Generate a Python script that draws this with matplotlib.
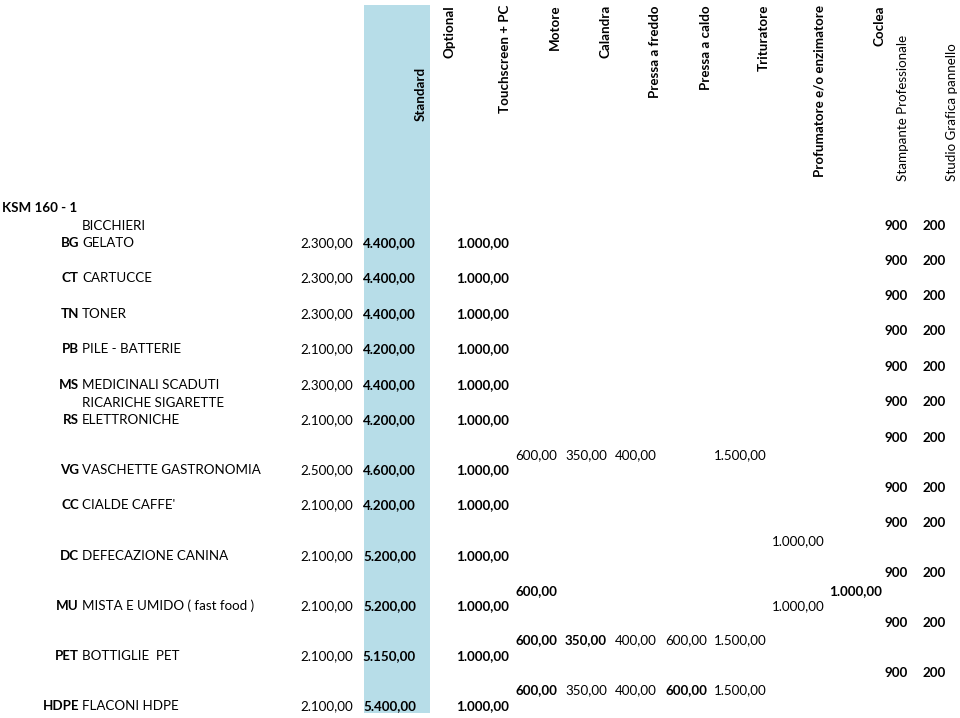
import matplotlib.pyplot as plt
from matplotlib.patches import Rectangle

plt.rcParams["font.family"] = ["Lato", "DejaVu Sans"]

# --- data ---
title = "KSM 160 - 1"
codes = ["BG", "CT", "TN", "PB", "MS", "RS", "VG", "CC", "DC", "MU", "PET", "HDPE"]
names = ["GELATO", "CARTUCCE", "TONER", "PILE - BATTERIE", "MEDICINALI SCADUTI",
         "ELETTRONICHE", "VASCHETTE GASTRONOMIA", "CIALDE CAFFE'",
         "DEFECAZIONE CANINA", "MISTA E UMIDO ( fast food )", "BOTTIGLIE  PET",
         "FLACONI HDPE"]
name_prefix = {"BG": "BICCHIERI", "RS": "RICARICHE SIGARETTE"}
base_price = [2300, 2300, 2300, 2100, 2300, 2100, 2500, 2100, 2100, 2100, 2100, 2100]
standard = [4400, 4400, 4400, 4200, 4400, 4200, 4600, 4200, 5200, 5200, 5150, 5400]
optional = [1000] * 12
stampante = [900] * 12
studio = [200] * 12

headers_top = ["Optional", "Touchscreen + PC", "Motore", "Calandra",
               "Pressa a freddo", "Pressa a caldo", "Trituratore",
               "Profumatore e/o enzimatore", "Coclea"]
headers_bottom = ["Stampante Professionale", "Studio Grafica pannello"]

# optional extras: (row code, column, value, bold, line) line 0 = above row, 1 = on row
extras = [
    ("VG", "Motore", 600, False, 0), ("VG", "Calandra", 350, False, 0),
    ("VG", "Pressa a freddo", 400, False, 0), ("VG", "Trituratore", 1500, False, 0),
    ("DC", "Profumatore", 1000, False, 0),
    ("MU", "Motore", 600, True, 0), ("MU", "Coclea", 1000, True, 0),
    ("MU", "Profumatore", 1000, False, 1),
    ("PET", "Motore", 600, True, 0), ("PET", "Calandra", 350, True, 0),
    ("PET", "Pressa a freddo", 400, False, 0), ("PET", "Pressa a caldo", 600, False, 0),
    ("PET", "Trituratore", 1500, False, 0),
    ("HDPE", "Motore", 600, True, 0), ("HDPE", "Calandra", 350, False, 0),
    ("HDPE", "Pressa a freddo", 400, False, 0), ("HDPE", "Pressa a caldo", 600, True, 0),
    ("HDPE", "Trituratore", 1500, False, 0),
]

# --- layout (pixels) ---
row_y = [243, 278, 314, 349, 385, 420, 470, 505, 556, 606, 656, 706]
acc_y = [226, 261, 296, 331, 367, 402, 438, 488, 523, 573, 623, 673]
extra_above = {"VG": 455, "DC": 541, "MU": 591, "PET": 640, "HDPE": 690}
extra_x = {"Motore": 557, "Calandra": 607, "Pressa a freddo": 657,
           "Pressa a caldo": 707, "Trituratore": 767, "Profumatore": 825,
           "Coclea": 882}
head_top_x = [450, 505, 555, 605, 655, 706, 764, 819, 879]
head_bot_x = [903, 952]
FS = 9.6


def fmt(v):
    s = f"{v:,.2f}"
    return s.replace(",", "X").replace(".", ",").replace("X", ".")


fig = plt.figure(figsize=(9.6, 7.18), dpi=100)
ax = fig.add_axes([0, 0, 1, 1])
ax.set_xlim(0, 960)
ax.set_ylim(718, 0)
ax.axis("off")

# Standard column highlight
ax.add_patch(Rectangle((364, 5), 66, 708, color="#b7dde8", lw=0))
ax.text(421, 121, "Standard", rotation=90, ha="center", va="bottom",
        fontsize=FS, fontweight="bold")
for x, h in zip(head_top_x, headers_top):
    ax.text(x, 5, h, rotation=90, ha="center", va="top", fontsize=FS, fontweight="bold")
for x, h in zip(head_bot_x, headers_bottom):
    ax.text(x, 181, h, rotation=90, ha="center", va="bottom", fontsize=FS)

ax.text(2, 208, title, ha="left", va="center", fontsize=FS, fontweight="bold")

for i, code in enumerate(codes):
    y = row_y[i]
    ax.text(79, y, code, ha="right", va="center", fontsize=FS, fontweight="bold")
    ax.text(82, y, names[i], ha="left", va="center", fontsize=FS)
    if code in name_prefix:
        ax.text(82, y - 17, name_prefix[code], ha="left", va="center", fontsize=FS)
    ax.text(353, y, fmt(base_price[i]), ha="right", va="center", fontsize=FS)
    ax.text(416, y, fmt(standard[i]), ha="right", va="center", fontsize=FS, fontweight="bold")
    ax.text(509, y, fmt(optional[i]), ha="right", va="center", fontsize=FS, fontweight="bold")
    ax.text(908, acc_y[i], str(stampante[i]), ha="right", va="center", fontsize=FS, fontweight="bold")
    ax.text(946, acc_y[i], str(studio[i]), ha="right", va="center", fontsize=FS, fontweight="bold")

for code, col, val, bold, line in extras:
    i = codes.index(code)
    y = extra_above[code] if line == 0 else row_y[i]
    ax.text(extra_x[col], y, fmt(val), ha="right", va="center", fontsize=FS,
            fontweight="bold" if bold else "normal")

fig.savefig("out.png", dpi=100, facecolor="white")
